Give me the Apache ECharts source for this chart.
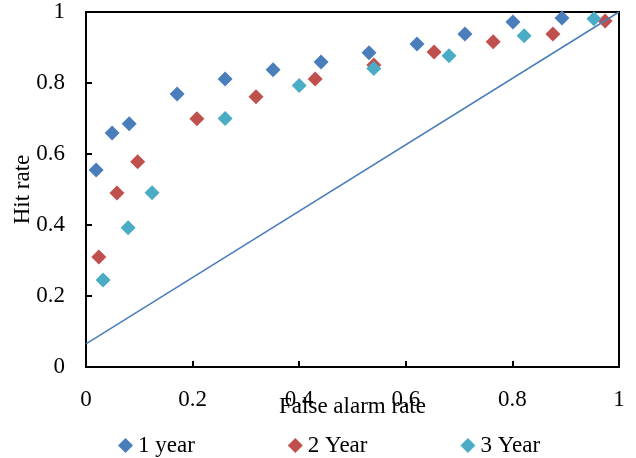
<!DOCTYPE html>
<html>
<head>
<meta charset="utf-8">
<script src="https://cdn.jsdelivr.net/npm/echarts@6/dist/echarts.min.js"></script>
<style>
html, body { margin: 0; padding: 0; background: #fff; }
#chart { width: 636px; height: 458px; }
</style>
</head>
<body>
<div id="chart"></div>
<script>
// hit rate vs false alarm rate
var seriesNames = ['1 year', '2 Year', '3 Year'];

var far1 = [0.019, 0.049, 0.081, 0.171, 0.261, 0.351, 0.441, 0.531, 0.621, 0.711, 0.801, 0.893];
var hit1 = [0.555, 0.659, 0.685, 0.769, 0.811, 0.837, 0.859, 0.885, 0.910, 0.938, 0.972, 0.983];

var far2 = [0.024, 0.058, 0.097, 0.208, 0.319, 0.430, 0.540, 0.653, 0.764, 0.876, 0.974];
var hit2 = [0.310, 0.490, 0.578, 0.699, 0.761, 0.811, 0.851, 0.887, 0.916, 0.938, 0.975];

var far3 = [0.032, 0.079, 0.124, 0.261, 0.400, 0.540, 0.681, 0.822, 0.953];
var hit3 = [0.245, 0.392, 0.491, 0.700, 0.793, 0.841, 0.877, 0.933, 0.981];

var lineX = [0, 1];
var lineY = [0.065, 1];

function pairs(xs, ys) {
	var out = [];
	for (var i = 0; i < xs.length; i++) out.push([xs[i], ys[i]]);
	return out;
}

function tickText(v) {
	return String(Math.round(v * 10) / 10);
}

var font = 'Liberation Serif, Times New Roman, serif';
var fontSize = 23;
var colors = ['#4A7EBB', '#C0504D', '#4BACC6'];

var chart = echarts.init(document.getElementById('chart'));
var option = {
	animation: false,
	textStyle: { fontFamily: font, color: '#000' },
	grid: {
		left: 86, top: 12, right: 17, bottom: 91,
		outerBoundsMode: 'none',
		show: true, borderColor: '#000', borderWidth: 2
	},
	legend: {
		data: seriesNames,
		left: 113, top: 429,
		icon: 'diamond',
		itemWidth: 15, itemHeight: 15,
		itemGap: 93,
		itemStyle: { opacity: 1 },
		textStyle: { fontFamily: font, fontSize: fontSize, color: '#000' }
	},
	xAxis: {
		type: 'value', min: 0, max: 1, interval: 0.2,
		name: 'False alarm rate',
		nameLocation: 'middle', nameGap: 28, nameMoveOverlap: false,
		nameTextStyle: { fontFamily: font, fontSize: fontSize, color: '#000' },
		axisLine: { lineStyle: { color: '#000', width: 2 } },
		axisTick: { inside: true, length: 6, lineStyle: { color: '#000', width: 2 } },
		axisLabel: { margin: 21, fontFamily: font, fontSize: fontSize, color: '#000', formatter: tickText },
		splitLine: { show: false }
	},
	yAxis: {
		type: 'value', min: 0, max: 1, interval: 0.2,
		name: 'Hit rate',
		nameLocation: 'middle', nameGap: 52, nameMoveOverlap: false,
		nameTextStyle: { fontFamily: font, fontSize: fontSize, color: '#000' },
		axisLine: { show: true, lineStyle: { color: '#000', width: 2 } },
		axisTick: { show: true, inside: true, length: 6, lineStyle: { color: '#000', width: 2 } },
		axisLabel: { margin: 21, fontFamily: font, fontSize: fontSize, color: '#000', formatter: tickText },
		splitLine: { show: false }
	},
	series: [
		{ name: seriesNames[0], type: 'scatter', symbol: 'diamond', symbolSize: 15,
			itemStyle: { color: colors[0], opacity: 1 }, data: pairs(far1, hit1) },
		{ name: seriesNames[1], type: 'scatter', symbol: 'diamond', symbolSize: 15,
			itemStyle: { color: colors[1], opacity: 1 }, data: pairs(far2, hit2) },
		{ name: seriesNames[2], type: 'scatter', symbol: 'diamond', symbolSize: 15,
			itemStyle: { color: colors[2], opacity: 1 }, data: pairs(far3, hit3) },
		{ name: 'diag', type: 'line', symbol: 'none', silent: true,
			lineStyle: { color: '#4A7EBB', width: 1.5 }, data: pairs(lineX, lineY) }
	]
};
chart.setOption(option);
</script>
</body>
</html>
